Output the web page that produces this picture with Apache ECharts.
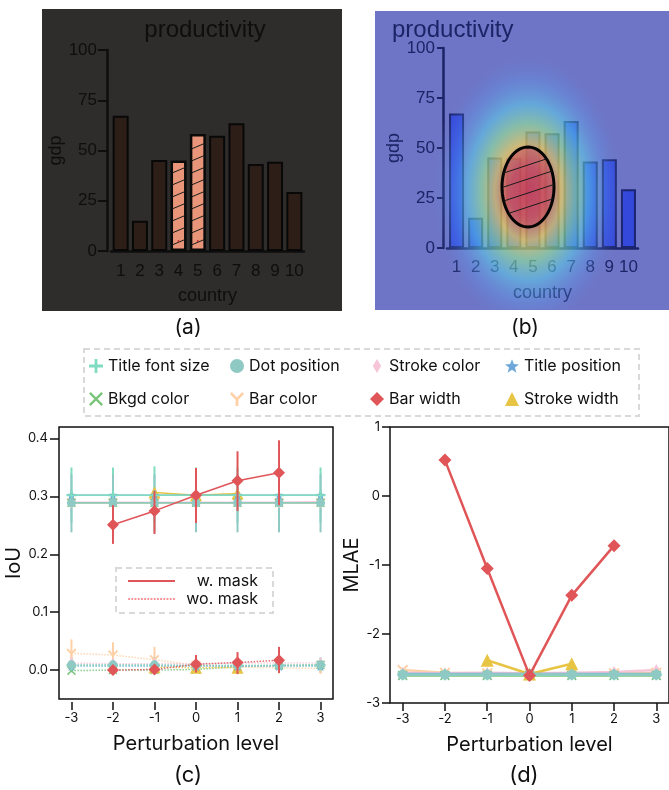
<!DOCTYPE html>
<html><head><meta charset="utf-8">
<script src="https://cdn.jsdelivr.net/npm/echarts@6/dist/echarts.min.js"></script>
<style>html,body{margin:0;padding:0;background:#fff}#c{width:669px;height:790px}</style>
</head><body><div id="c"></div>
<script>
// ---------- data: top panels ----------
const countries = ['1','2','3','4','5','6','7','8','9','10'];
const gdp = [67.3, 15.1, 45.3, 45.0, 58.2, 57.4, 63.5, 43.3, 44.4, 29.4];
const highlighted = ['4','5'];
const gdpTicks = [0, 25, 50, 75, 100];

// ---------- data: bottom panels ----------
const levels = [-3, -2, -1, 0, 1, 2, 3];
const featureNames = ['Title font size','Dot position','Stroke color','Title position','Bkgd color','Bar color','Bar width','Stroke width'];
const iouTicks = [0, 0.1, 0.2, 0.3, 0.4];

// IoU, w. mask
const iouMaskTitleFont   = [0.302,0.302,0.302,0.302,0.302,0.302,0.302];
const iouMaskDotPos      = [0.289,0.289,0.289,0.289,0.289,0.289,0.289];
const iouMaskStrokeColor = [0.290,0.290,0.290,0.290,0.290,0.290,0.291];
const iouMaskTitlePos    = [0.302,0.302,0.302,0.302,0.302,0.302,0.302];
const iouMaskBkgd        = [0.289,0.289,0.289,0.289,0.289,0.289,0.289];
const iouMaskBarColor    = [0.289,0.289,0.289,0.289,0.289,0.289,0.289];
const iouMaskBarWidth    = [null,0.251,0.275,0.302,0.327,0.341,null];
const iouMaskStrokeWidth = [null,null,0.307,0.302,0.305,null,null];
// IoU, wo. mask
const iouNoMaskTitleFont   = [0.008,0.008,0.008,0.008,0.008,0.008,0.008];
const iouNoMaskDotPos      = [0.009,0.009,0.009,0.008,0.008,0.008,0.009];
const iouNoMaskStrokeColor = [0.012,0.011,0.011,0.011,0.012,0.012,0.012];
const iouNoMaskTitlePos    = [0.007,0.007,0.007,0.007,0.007,0.007,0.007];
const iouNoMaskBkgd        = [-0.001,0.000,0.000,0.001,0.006,0.008,0.009];
const iouNoMaskBarColor    = [0.029,0.026,0.018,0.008,0.005,0.004,0.003];
const iouNoMaskBarWidth    = [null,0.000,0.001,0.010,0.013,0.017,null];
const iouNoMaskStrokeWidth = [null,null,0.005,0.004,0.004,null,null];
// IoU error bars
const errMaskTitleFontLow   = [0.255,0.255,0.255,0.255,0.255,0.255,0.255];
const errMaskTitleFontHigh  = [0.350,0.350,0.352,0.350,0.350,0.350,0.350];
const errMaskDotPosLow      = [0.238,0.238,0.238,0.238,0.238,0.238,0.238];
const errMaskDotPosHigh     = [0.338,0.338,0.338,0.338,0.338,0.338,0.338];
const errMaskBarWidthLow    = [null,0.218,0.235,0.254,0.275,0.285,null];
const errMaskBarWidthHigh   = [null,0.285,0.310,0.349,0.378,0.397,null];
const errNoMaskBarColorLow  = [0.005,0.004,-0.003,-0.005,-0.006,-0.006,-0.006];
const errNoMaskBarColorHigh = [0.053,0.048,0.040,0.022,0.016,0.014,0.012];
const errNoMaskDotPosLow    = [-0.004,-0.004,-0.004,-0.004,-0.004,-0.004,-0.004];
const errNoMaskDotPosHigh   = [0.022,0.022,0.022,0.021,0.021,0.021,0.022];
const errNoMaskBarWidthLow  = [null,-0.004,-0.004,-0.004,-0.007,-0.005,null];
const errNoMaskBarWidthHigh = [null,0.005,0.006,0.026,0.031,0.040,null];

// MLAE
const mlaeTitleFont   = [-2.59,-2.59,-2.59,-2.59,-2.59,-2.59,-2.59];
const mlaeDotPos      = [-2.59,-2.59,-2.59,-2.58,-2.59,-2.59,-2.59];
const mlaeStrokeColor = [-2.56,-2.57,-2.56,-2.57,-2.56,-2.55,-2.52];
const mlaeTitlePos    = [-2.58,-2.58,-2.58,-2.58,-2.58,-2.58,-2.58];
const mlaeBkgd        = [-2.60,-2.60,-2.60,-2.60,-2.60,-2.60,-2.60];
const mlaeBarColor    = [-2.52,-2.56,-2.57,-2.57,-2.57,-2.57,-2.56];
const mlaeBarWidth    = [null,0.52,-1.05,-2.60,-1.44,-0.72,null];
const mlaeStrokeWidth = [null,null,-2.38,-2.58,-2.43,null,null];
const mlaeTicks = [-3,-2,-1,0,1];

// ---------- styles ----------
const PLUS  = 'path://M4,0H6V4H10V6H6V10H4V6H0V4H4Z';
const CROSS = 'path://M1.2,0L5,3.8L8.8,0L10,1.2L6.2,5L10,8.8L8.8,10L5,6.2L1.2,10L0,8.8L3.8,5L0,1.2Z';
const YSYM  = 'path://M4,5.6V10H6V5.6L10,1.4L8.7,0L5,3.9L1.3,0L0,1.4Z';
const STAR  = 'path://M5,0L6.3,3.4L10,3.6L7.1,5.9L8.1,9.5L5,7.5L1.9,9.5L2.9,5.9L0,3.6L3.7,3.4Z';
const THIND = 'path://M3,0L6,5L3,10L0,5Z';
const featureColors  = ['#7fdcc0','#8fc9c3','#f7c5d8','#6ea8d8','#7cc47c','#ffd0a6','#e05558','#e8c444'];
const featureSymbols = [PLUS,'circle',THIND,STAR,CROSS,YSYM,'diamond','triangle'];
const featureSizes   = [10,9,[7,12],10,9,10,12,12];

const iouMask   = [iouMaskTitleFont,iouMaskDotPos,iouMaskStrokeColor,iouMaskTitlePos,iouMaskBkgd,iouMaskBarColor,iouMaskBarWidth,iouMaskStrokeWidth];
const iouNoMask = [iouNoMaskTitleFont,iouNoMaskDotPos,iouNoMaskStrokeColor,iouNoMaskTitlePos,iouNoMaskBkgd,iouNoMaskBarColor,iouNoMaskBarWidth,iouNoMaskStrokeWidth];
const mlae      = [mlaeTitleFont,mlaeDotPos,mlaeStrokeColor,mlaeTitlePos,mlaeBkgd,mlaeBarColor,mlaeBarWidth,mlaeStrokeWidth];
const drawOrder = [5,4,2,7,3,0,1,6];
const errorBars = [
  [errMaskTitleFontLow, errMaskTitleFontHigh, 0],
  [errMaskDotPosLow, errMaskDotPosHigh, 1],
  [errMaskBarWidthLow, errMaskBarWidthHigh, 6],
  [errNoMaskBarColorLow, errNoMaskBarColorHigh, 5],
  [errNoMaskDotPosLow, errNoMaskDotPosHigh, 1],
  [errNoMaskBarWidthLow, errNoMaskBarWidthHigh, 6]
];

const chart = echarts.init(document.getElementById('c'), null, {renderer:'canvas'});
const TOPFONT = 'Liberation Sans, Arial, sans-serif';
const BFONT = 'Inter, sans-serif';

function pts(arr){ return levels.map((x,j)=>[x, arr[j]]); }

const series = [];
// (a) bars
series.push({
  type:'bar', xAxisIndex:0, yAxisIndex:0, barWidth:16, silent:true,
  itemStyle:{color:'#2e1e18', borderColor:'#080808', borderWidth:2},
  data: gdp.map((v,i)=> highlighted.includes(countries[i]) ? {
    value:v, itemStyle:{color:'#e8957a', borderColor:'#0a0a0a', borderWidth:2.5}
  } : v)
});
// (a) hatch on highlighted bars
series.push({
  type:'custom', xAxisIndex:0, yAxisIndex:0, silent:true, z:5,
  data: countries.map((c,i)=>[i, gdp[i]]).filter(d=>highlighted.includes(countries[d[0]])),
  renderItem:(params, api)=>{
    const top = api.coord([api.value(0), api.value(1)]);
    const base = api.coord([api.value(0), 0]);
    const half = 6.5, rise = 5.5, children = [];
    for (let y = base[1]-6; y - rise > top[1] + 2; y -= 12){
      children.push({type:'line', shape:{x1:top[0]-half, y1:y, x2:top[0]+half, y2:y-rise}, style:{stroke:'#1a1a1a', lineWidth:1}});
    }
    children.push({type:'circle', shape:{cx:top[0], cy:api.coord([api.value(0), 5])[1], r:1}, style:{fill:'#c0302a'}});
    return {type:'group', children};
  }
});
// (b) bars
series.push({
  type:'bar', xAxisIndex:1, yAxisIndex:1, barWidth:15, silent:true,
  itemStyle:{color:'#3449dc', borderColor:'#1b2470', borderWidth:2},
  data: gdp.slice()
});
// (c) + (d)
drawOrder.forEach(i=>{
  const base = {name:featureNames[i], type:'line', symbol:featureSymbols[i], symbolSize:featureSizes[i],
    itemStyle:{color:featureColors[i]}, silent:true, animation:false, connectNulls:false};
  series.push(Object.assign({}, base, {xAxisIndex:3, yAxisIndex:3, data:pts(mlae[i]), z:i===6?6:3,
    lineStyle:{color:featureColors[i], width:2.5}, symbolSize: Array.isArray(featureSizes[i])?featureSizes[i]:featureSizes[i]+1}));
});
drawOrder.forEach(i=>{
  const base = {name:featureNames[i], type:'line', symbol:featureSymbols[i], symbolSize:featureSizes[i],
    itemStyle:{color:featureColors[i]}, silent:true, animation:false};
  series.push(Object.assign({}, base, {xAxisIndex:2, yAxisIndex:2, data:pts(iouNoMask[i]), z:3,
    lineStyle:{color:featureColors[i], width:1.5, type:'dotted', opacity:0.85}}));
  series.push(Object.assign({}, base, {xAxisIndex:2, yAxisIndex:2, data:pts(iouMask[i]), z:i===6?6:4,
    lineStyle:{color:featureColors[i], width:1.5}}));
});
errorBars.forEach(([lo,hi,fi])=>{
  series.push({
    type:'custom', xAxisIndex:2, yAxisIndex:2, silent:true, z: fi===6?5:2,
    data: levels.map((x,j)=>[x, lo[j], hi[j]]).filter(d=>d[1]!==null),
    renderItem:(params, api)=>{
      const a = api.coord([api.value(0), api.value(1)]);
      const b = api.coord([api.value(0), api.value(2)]);
      return {type:'line', shape:{x1:a[0],y1:a[1],x2:b[0],y2:b[1]}, style:{stroke:featureColors[fi], lineWidth:2}};
    }
  });
});
// dummy series for the mask legend
series.push({name:'w. mask', type:'line', xAxisIndex:2, yAxisIndex:2, data:[], itemStyle:{color:'#e05558'}, lineStyle:{color:'#e05558'}});
series.push({name:'wo. mask', type:'line', xAxisIndex:2, yAxisIndex:2, data:[], itemStyle:{color:'#f09090'}, lineStyle:{color:'#f09090', type:'dotted'}});

const legendCols = [[0,4],[1,5],[2,6],[3,7]];
const legendLefts = [89, 230, 370, 505];
const legends = legendCols.map((col,k)=>({
  orient:'vertical', left:legendLefts[k], top:357, itemWidth:14, itemHeight:14, itemGap:15,
  selectedMode:false, padding:0,
  textStyle:{fontFamily:BFONT, fontSize:16, color:'#111', lineHeight:18},
  data: col.map(i=>({name:featureNames[i], icon: featureSymbols[i]}))
}));
const SOLID = 'path://M0,0H47V2H0Z';
let dots = ''; for (let x=0;x<47;x+=3.2){ dots += 'M'+x.toFixed(1)+',0h1.8v2h-1.8z'; }
legends.push({
  orient:'vertical', left:128, top:572, itemWidth:47, itemHeight:2, itemGap:0, selectedMode:false, padding:0,
  formatter: n => '{r|'+n+'}',
  textStyle:{fontFamily:BFONT, fontSize:16, color:'#111', lineHeight:18, rich:{r:{width:78, align:'right', fontFamily:BFONT, fontSize:16, color:'#111'}}},
  data:[{name:'w. mask', icon:SOLID},{name:'wo. mask', icon:'path://'+dots}]
});

// heat overlay for (b)
const heatGrad = {type:'radial', x:0.5, y:0.5, r:0.5, colorStops:[
  {offset:0, color:'rgba(214,62,72,0.82)'},
  {offset:0.18, color:'rgba(228,100,75,0.76)'},
  {offset:0.34, color:'rgba(246,214,88,0.7)'},
  {offset:0.48, color:'rgba(150,236,150,0.6)'},
  {offset:0.62, color:'rgba(92,214,236,0.52)'},
  {offset:0.8, color:'rgba(92,160,240,0.28)'},
  {offset:1, color:'rgba(108,115,196,0)'}]};
const ellCx = 528, ellCy = 187, ellRx = 26, ellRy = 40;
const ellPts = [];
for (let k=0;k<72;k++){ const t=k/72*2*Math.PI; ellPts.push([ellCx+ellRx*Math.cos(t), ellCy+ellRy*Math.sin(t)]); }
const hatch = [];
[-22,-8,6,20].forEach(off=>{
  const xs=[], m=-0.33;
  for (let x=ellCx-ellRx; x<=ellCx+ellRx; x+=0.25){
    const y = ellCy + off + m*(x-ellCx);
    if (((x-ellCx)/ellRx)**2 + ((y-ellCy)/ellRy)**2 <= 1) xs.push(x);
  }
  if (xs.length){ const x1=xs[0], x2=xs[xs.length-1];
    hatch.push({type:'line', z:62, silent:true, shape:{x1, y1:ellCy+off+m*(x1-ellCx), x2, y2:ellCy+off+m*(x2-ellCx)}, style:{stroke:'#1a1a1a', lineWidth:1}}); }
});

const graphic = [
  {type:'rect', z:-1, silent:true, shape:{x:42, y:9, width:300, height:302}, style:{fill:'#2f2d2b'}},
  {type:'rect', z:-1, silent:true, shape:{x:375, y:11, width:294, height:299}, style:{fill:'#6e75c6'}},
  {type:'circle', z:60, silent:true, x:528, y:192, scaleX:1, scaleY:1.45, shape:{cx:0, cy:0, r:98}, style:{fill:heatGrad}},
  {type:'rect', z:63, silent:true, shape:{x:370, y:310, width:300, height:38}, style:{fill:'#fff'}},
  {type:'polygon', z:61, silent:true, shape:{points:ellPts}, style:{fill:'rgba(200,70,95,0.45)', stroke:'#050505', lineWidth:3}},
  ...hatch,
  {type:'text', silent:true, x:205, y:30, style:{text:'productivity', font:'24px '+TOPFONT, fill:'#0e0e0e', textAlign:'center', textVerticalAlign:'middle'}},
  {type:'text', silent:true, z:70, x:392, y:30, style:{text:'productivity', font:'24px '+TOPFONT, fill:'#1c2366', textAlign:'left', textVerticalAlign:'middle'}},
  {type:'text', silent:true, x:188, y:328, style:{text:'(a)', font:'21px '+BFONT, fill:'#111', textAlign:'center', textVerticalAlign:'middle'}},
  {type:'text', silent:true, z:70, x:525, y:328, style:{text:'(b)', font:'21px '+BFONT, fill:'#111', textAlign:'center', textVerticalAlign:'middle'}},
  {type:'text', silent:true, x:188, y:775, style:{text:'(c)', font:'22px '+BFONT, fill:'#111', textAlign:'center', textVerticalAlign:'middle'}},
  {type:'text', silent:true, x:524, y:775, style:{text:'(d)', font:'22px '+BFONT, fill:'#111', textAlign:'center', textVerticalAlign:'middle'}},
  {type:'rect', silent:true, z:70, shape:{x:84, y:349, width:555, height:67}, style:{fill:'none', stroke:'#d9d9d9', lineWidth:2, lineDash:[6,4]}},
  {type:'rect', silent:true, z:1, shape:{x:116, y:568, width:157, height:45}, style:{fill:'#fff', stroke:'#d9d9d9', lineWidth:2, lineDash:[6,4]}}
];

function topX(gi, color, margin){
  return {type:'category', gridIndex:gi, data:countries,
    axisLine:{onZero:false, lineStyle:{color, width:2.5}}, axisTick:{alignWithLabel:true, interval:0, length:8, lineStyle:{color, width:2}},
    axisLabel:{interval:0, fontFamily:TOPFONT, fontSize:17, color, margin},
    name:'country', nameLocation:'middle', nameGap:36, nameTextStyle:{fontFamily:TOPFONT, fontSize:18, color}};
}
function topY(gi, color, tickLen, margin, gap){
  return {type:'value', gridIndex:gi, min:0, max:100, interval:25, offset:4,
    axisLine:{show:true, onZero:false, lineStyle:{color, width:2.5}}, axisTick:{show:true, length:tickLen, lineStyle:{color, width:2}},
    axisLabel:{fontFamily:TOPFONT, fontSize:17, color, margin}, splitLine:{show:false},
    name:'gdp', nameLocation:'middle', nameGap:gap, nameRotate:90, nameTextStyle:{fontFamily:TOPFONT, fontSize:18, color}};
}
function botX(gi, off){
  return {type:'value', gridIndex:gi, min:-3.3, max:3.3, offset:off,
    axisLine:{show:false, onZero:false}, splitLine:{show:false},
    axisTick:{show:true, length:8, customValues:levels, lineStyle:{color:'#111', width:1.5}},
    axisLabel:{customValues:levels, fontFamily:BFONT, fontSize:13, color:'#111', margin:10},
    name:'Perturbation level', nameLocation:'middle', nameGap:32, nameTextStyle:{fontFamily:BFONT, fontSize:20, color:'#111'}};
}

const option = {
  backgroundColor:'#fff', animation:false,
  grid:[
    {left:111, top:50, width:193, height:201},
    {left:447, top:48, width:191, height:200},
    {left:59, top:427, width:274, height:272, show:true, borderColor:'#111', borderWidth:1.5},
    {left:390, top:427, width:282, height:276, show:true, borderColor:'#111', borderWidth:1.5}
  ],
  xAxis:[ topX(0,'#0e0e0e',12), topX(1,'#1c2366',11), botX(2,3), botX(3,0) ],
  yAxis:[ topY(0,'#0e0e0e',9,10,42), topY(1,'#1c2366',6,8,38),
    {type:'value', gridIndex:2, min:-0.05, max:0.42, axisLine:{show:false, onZero:false}, splitLine:{show:false},
      axisTick:{show:true, length:9, customValues:iouTicks, lineStyle:{color:'#111', width:1.5}},
      axisLabel:{customValues:iouTicks, formatter:v=>v.toFixed(1), fontFamily:BFONT, fontSize:13, color:'#111', margin:11},
      name:'IoU', nameLocation:'middle', nameGap:32, nameRotate:90, nameTextStyle:{fontFamily:BFONT, fontSize:20, color:'#111'}},
    {type:'value', gridIndex:3, min:-3, max:1, interval:1, axisLine:{show:false, onZero:false}, splitLine:{show:false},
      axisTick:{show:true, length:8, lineStyle:{color:'#111', width:1.5}},
      axisLabel:{fontFamily:BFONT, fontSize:13, color:'#111', margin:10},
      name:'MLAE', nameLocation:'middle', nameGap:24, nameRotate:90, nameTextStyle:{fontFamily:BFONT, fontSize:20, color:'#111'}}
  ],
  legend: legends,
  graphic: graphic,
  series: series
};
chart.setOption(option);
</script></body></html>
